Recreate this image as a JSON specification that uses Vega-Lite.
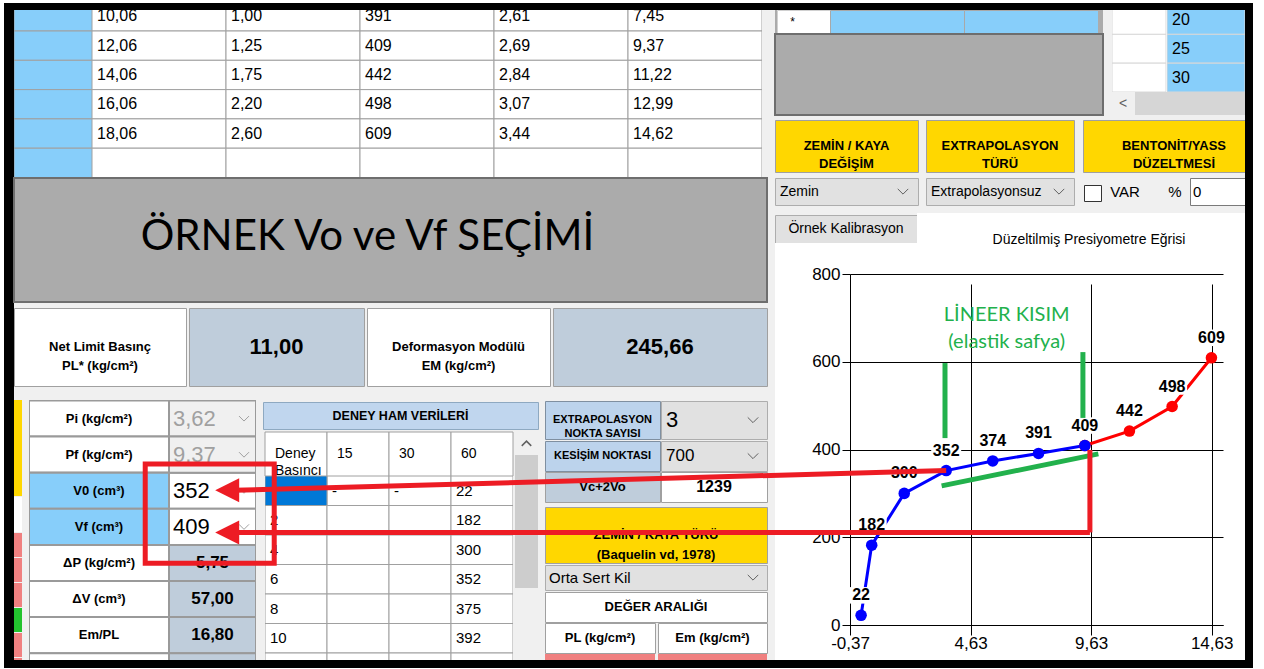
{
"$schema":"https://vega.github.io/schema/vega-lite/v6.json",
"padding":0,
"background":"#F0F0F0",
"spacing":0,
"bounds":"flush",
"config":{"view":{"stroke":null},"concat":{"spacing":0},"text":{"font":"Liberation Sans","color":"#000000"},"point":{"opacity":1}},
"datasets":{
 "tablo1":[
  {"r":0,"c":"c1","t":"10,06"},{"r":0,"c":"c2","t":"1,00"},{"r":0,"c":"c3","t":"391"},{"r":0,"c":"c4","t":"2,61"},{"r":0,"c":"c5","t":"7,45"},
  {"r":1,"c":"c1","t":"12,06"},{"r":1,"c":"c2","t":"1,25"},{"r":1,"c":"c3","t":"409"},{"r":1,"c":"c4","t":"2,69"},{"r":1,"c":"c5","t":"9,37"},
  {"r":2,"c":"c1","t":"14,06"},{"r":2,"c":"c2","t":"1,75"},{"r":2,"c":"c3","t":"442"},{"r":2,"c":"c4","t":"2,84"},{"r":2,"c":"c5","t":"11,22"},
  {"r":3,"c":"c1","t":"16,06"},{"r":3,"c":"c2","t":"2,20"},{"r":3,"c":"c3","t":"498"},{"r":3,"c":"c4","t":"3,07"},{"r":3,"c":"c5","t":"12,99"},
  {"r":4,"c":"c1","t":"18,06"},{"r":4,"c":"c2","t":"2,60"},{"r":4,"c":"c3","t":"609"},{"r":4,"c":"c4","t":"3,44"},{"r":4,"c":"c5","t":"14,62"},
  {"r":5,"c":"c1","t":""},{"r":5,"c":"c2","t":""},{"r":5,"c":"c3","t":""},{"r":5,"c":"c4","t":""},{"r":5,"c":"c5","t":""}
 ],
 "params":[
  {"r":0,"kol":"ad","t":"Pi (kg/cm²)","tur":"normal"},{"r":0,"kol":"deger","t":"3,62","tur":"liste"},
  {"r":1,"kol":"ad","t":"Pf (kg/cm²)","tur":"normal"},{"r":1,"kol":"deger","t":"9,37","tur":"liste"},
  {"r":2,"kol":"ad","t":"V0 (cm³)","tur":"secim"},{"r":2,"kol":"deger","t":"352","tur":"secim"},
  {"r":3,"kol":"ad","t":"Vf (cm³)","tur":"secim"},{"r":3,"kol":"deger","t":"409","tur":"secim"},
  {"r":4,"kol":"ad","t":"ΔP (kg/cm²)","tur":"normal"},{"r":4,"kol":"deger","t":"5,75","tur":"sonuc"},
  {"r":5,"kol":"ad","t":"ΔV (cm³)","tur":"normal"},{"r":5,"kol":"deger","t":"57,00","tur":"sonuc"},
  {"r":6,"kol":"ad","t":"Em/PL","tur":"normal"},{"r":6,"kol":"deger","t":"16,80","tur":"sonuc"},
  {"r":7,"kol":"ad","t":"","tur":"normal"},{"r":7,"kol":"deger","t":"","tur":"sonuc"}
 ],
 "deney":[
  {"r":0,"kol":"basinc","t":"","tur":"secili"},{"r":0,"kol":"s15","t":"-","tur":"normal"},{"r":0,"kol":"s30","t":"-","tur":"normal"},{"r":0,"kol":"s60","t":"22","tur":"normal"},
  {"r":1,"kol":"basinc","t":"2","tur":"normal"},{"r":1,"kol":"s15","t":"","tur":"normal"},{"r":1,"kol":"s30","t":"","tur":"normal"},{"r":1,"kol":"s60","t":"182","tur":"normal"},
  {"r":2,"kol":"basinc","t":"4","tur":"normal"},{"r":2,"kol":"s15","t":"","tur":"normal"},{"r":2,"kol":"s30","t":"","tur":"normal"},{"r":2,"kol":"s60","t":"300","tur":"normal"},
  {"r":3,"kol":"basinc","t":"6","tur":"normal"},{"r":3,"kol":"s15","t":"","tur":"normal"},{"r":3,"kol":"s30","t":"","tur":"normal"},{"r":3,"kol":"s60","t":"352","tur":"normal"},
  {"r":4,"kol":"basinc","t":"8","tur":"normal"},{"r":4,"kol":"s15","t":"","tur":"normal"},{"r":4,"kol":"s30","t":"","tur":"normal"},{"r":4,"kol":"s60","t":"375","tur":"normal"},
  {"r":5,"kol":"basinc","t":"10","tur":"normal"},{"r":5,"kol":"s15","t":"","tur":"normal"},{"r":5,"kol":"s30","t":"","tur":"normal"},{"r":5,"kol":"s60","t":"392","tur":"normal"},
  {"r":6,"kol":"basinc","t":"","tur":"normal"},{"r":6,"kol":"s15","t":"","tur":"normal"},{"r":6,"kol":"s30","t":"","tur":"normal"},{"r":6,"kol":"s60","t":"","tur":"normal"}
 ],
 "sag":[{"r":0,"kol":"deger","t":"20"},{"r":1,"kol":"deger","t":"25"},{"r":2,"kol":"deger","t":"30"}],
 "egri":[
  {"p":9.37,"v":409,"seri":"B"},{"p":11.22,"v":442,"seri":"B"},{"p":12.99,"v":498,"seri":"B"},{"p":14.62,"v":609,"seri":"B"},
  {"p":0.09,"v":22,"seri":"A"},{"p":0.53,"v":182,"seri":"A"},{"p":1.88,"v":300,"seri":"A"},{"p":3.62,"v":352,"seri":"A"},{"p":5.55,"v":374,"seri":"A"},{"p":7.45,"v":391,"seri":"A"},{"p":9.37,"v":409,"seri":"A"}
 ]
},
"vconcat":[
 {"width":1264,"height":3,"view":{"fill":"#FFFFFF"},"data":{"values":[]},"mark":{"type":"text","text":""}},
 {"hconcat":[
  {"width":4,"height":665,"view":{"fill":"#FFFFFF"},"data":{"values":[]},"mark":{"type":"text","text":""}},
  {"vconcat":[
   {"width":1249,"height":7,"view":{"fill":"#000000"},"data":{"values":[]},"mark":{"type":"text","text":""}},
   {"hconcat":[
    {"width":10,"height":650,"view":{"fill":"#000000"},"data":{"values":[]},"mark":{"type":"text","text":""}},
    {"hconcat":[
     {"vconcat":[
      {"hconcat":[
       {"width":78,"height":168,"data":{"name":"tablo1"},"transform":[{"filter":"datum.c == 'c1'"}],
        "mark":{"type":"rect","fill":"#87CEFA","stroke":"#A0A0A0","strokeWidth":1,"clip":true},
        "encoding":{"y":{"field":"r","type":"ordinal","axis":null,"scale":{"type":"band","range":[-8.3,167.5],"paddingInner":0,"paddingOuter":0}}}},
       {"width":670,"height":168,"data":{"name":"tablo1"},
        "encoding":{"x":{"field":"c","type":"nominal","axis":null,"scale":{"type":"band","paddingInner":0,"paddingOuter":0}},
                    "y":{"field":"r","type":"ordinal","axis":null,"scale":{"type":"band","range":[-8.3,167.5],"paddingInner":0,"paddingOuter":0}}},
        "layer":[
         {"mark":{"type":"rect","fill":"#FFFFFF","stroke":"#A0A0A0","strokeWidth":1,"clip":true}},
         {"mark":{"type":"text","align":"left","dx":5,"fontSize":16,"clip":true},"encoding":{"x":{"field":"c","type":"nominal","axis":null,"bandPosition":0},"text":{"field":"t"}}}
        ]},
       {"width":5,"height":168,"data":{"values":[]},"mark":{"type":"text","text":""}}
      ],"spacing":0,"bounds":"flush"},
      {"width":1,"height":168,"data":{"values":[]},"mark":{"type":"text","text":""}},
      {"width":753,"height":124,"view":{"fill":"#ABABAB","stroke":"#6E6E6E","strokeWidth":2},"data":{"values":[{"t":"ÖRNEK Vo ve Vf SEÇİMİ"}]},
       "mark":{"type":"text","font":"Lato","fontSize":42,"dx":-23,"dy":-3},"encoding":{"text":{"field":"t"}}},
      {"width":753,"height":6,"data":{"values":[]},"mark":{"type":"text","text":""}},
      {"hconcat":[
       {"width":172,"height":78,"view":{"fill":"#FFFFFF","stroke":"#A0A0A0"},"data":{"values":[{"t":"Net Limit Basınç\nPL* (kg/cm²)"}]},"mark":{"type":"text","fontSize":13,"fontWeight":"bold","lineBreak":"\n","lineHeight":19},"encoding":{"text":{"field":"t"}}},
       {"width":175,"height":78,"view":{"fill":"#BFCDDB","stroke":"#A0A0A0"},"data":{"values":[{"t":"11,00"}]},"mark":{"type":"text","fontSize":22,"fontWeight":"bold"},"encoding":{"text":{"field":"t"}}},
       {"width":183,"height":78,"view":{"fill":"#FFFFFF","stroke":"#A0A0A0"},"data":{"values":[{"t":"Deformasyon Modülü\nEM (kg/cm²)"}]},"mark":{"type":"text","fontSize":13,"fontWeight":"bold","lineBreak":"\n","lineHeight":19},"encoding":{"text":{"field":"t"}}},
       {"width":214,"height":78,"view":{"fill":"#BFCDDB","stroke":"#A0A0A0"},"data":{"values":[{"t":"245,66"}]},"mark":{"type":"text","fontSize":22,"fontWeight":"bold"},"encoding":{"text":{"field":"t"}}}
      ],"spacing":3,"bounds":"flush"},
      {"width":1,"height":78,"data":{"values":[]},"mark":{"type":"text","text":""}},
      {"width":753,"height":14,"data":{"values":[]},"mark":{"type":"text","text":""}},
      {"hconcat":[
       {"vconcat":[
        {"width":8,"height":96,"view":{"fill":"#FFD700"},"data":{"values":[]},"mark":{"type":"text","text":""}},
        {"width":8,"height":35,"view":{"fill":"#FFFFFF"},"data":{"values":[]},"mark":{"type":"text","text":""}},
        {"width":8,"height":24,"view":{"fill":"#F08080"},"data":{"values":[]},"mark":{"type":"text","text":""}},
        {"width":8,"height":24,"view":{"fill":"#F08080"},"data":{"values":[]},"mark":{"type":"text","text":""}},
        {"width":8,"height":24,"view":{"fill":"#F08080"},"data":{"values":[]},"mark":{"type":"text","text":""}},
        {"width":8,"height":24,"view":{"fill":"#22C32E"},"data":{"values":[]},"mark":{"type":"text","text":""}},
        {"width":8,"height":24,"view":{"fill":"#F08080"},"data":{"values":[]},"mark":{"type":"text","text":""}},
        {"width":8,"height":2,"view":{"fill":"#F08080"},"data":{"values":[]},"mark":{"type":"text","text":""}}
       ],"spacing":1,"bounds":"flush"},
       {"width":15,"height":1,"data":{"values":[]},"mark":{"type":"text","text":""}},
       {"width":140,"height":260,"data":{"name":"params"},"transform":[{"filter":"datum.kol == 'ad'"}],
        "encoding":{"y":{"field":"r","type":"ordinal","axis":null,"scale":{"type":"band","range":[0.5,289.3],"paddingInner":0,"paddingOuter":0}}},
        "layer":[
         {"mark":{"type":"rect","fill":"#FFFFFF","stroke":"#9A9A9A","strokeWidth":2,"clip":true}},
         {"transform":[{"filter":"datum.tur == 'secim'"}],"mark":{"type":"rect","fill":"#87CEFA","stroke":"#9A9A9A","strokeWidth":2,"clip":true}},
         {"mark":{"type":"text","fontSize":13,"fontWeight":"bold","clip":true},"encoding":{"text":{"field":"t"}}}
        ]},
       {"width":87,"height":260,"data":{"name":"params"},"transform":[{"filter":"datum.kol == 'deger'"}],
        "encoding":{"y":{"field":"r","type":"ordinal","axis":null,"scale":{"type":"band","range":[0.5,289.3],"paddingInner":0,"paddingOuter":0}},
                    "x":{"field":"kol","type":"nominal","axis":null,"scale":{"type":"band","paddingInner":0,"paddingOuter":0}}},
        "layer":[
         {"mark":{"type":"rect","fill":"#FFFFFF","stroke":"#9A9A9A","strokeWidth":2,"clip":true}},
         {"transform":[{"filter":"datum.tur == 'liste'"}],"mark":{"type":"rect","fill":"#F0F0F0","stroke":"#9A9A9A","strokeWidth":2,"clip":true}},
         {"transform":[{"filter":"datum.tur == 'sonuc'"}],"mark":{"type":"rect","fill":"#BFCDDB","stroke":"#9A9A9A","strokeWidth":2,"clip":true}},
         {"transform":[{"filter":"datum.tur == 'liste'"}],"mark":{"type":"text","align":"left","dx":4,"fontSize":22,"color":"#A0A0A0","clip":true},"encoding":{"x":{"field":"kol","type":"nominal","axis":null,"bandPosition":0},"text":{"field":"t"}}},
         {"transform":[{"filter":"datum.tur == 'secim'"}],"mark":{"type":"text","align":"left","dx":4,"fontSize":22,"color":"#000000","clip":true},"encoding":{"x":{"field":"kol","type":"nominal","axis":null,"bandPosition":0},"text":{"field":"t"}}},
         {"transform":[{"filter":"datum.tur == 'sonuc'"}],"mark":{"type":"text","fontSize":17,"fontWeight":"bold","clip":true},"encoding":{"text":{"field":"t"}}},
         {"transform":[{"filter":"datum.tur != 'sonuc'"}],"mark":{"type":"point","shape":"M-1,-0.5L0,0.5L1,-0.5","filled":false,"color":"#A0A0A0","strokeWidth":1,"size":100,"opacity":1,"xOffset":-12},"encoding":{"x":{"field":"kol","type":"nominal","axis":null,"bandPosition":1}}}
        ]},
       {"width":7,"height":260,"data":{"values":[]},"mark":{"type":"text","text":""}},
       {"vconcat":[
        {"width":275,"height":2,"data":{"values":[]},"mark":{"type":"text","text":""}},
        {"width":275,"height":27,"view":{"fill":"#C0D6EE","stroke":"#8EA9C1"},"data":{"values":[{"t":"DENEY HAM VERİLERİ"}]},"mark":{"type":"text","fontSize":12.5,"fontWeight":"bold"},"encoding":{"text":{"field":"t"}}},
        {"width":275,"height":3,"data":{"values":[]},"mark":{"type":"text","text":""}},
        {"hconcat":[
         {"width":2,"height":1,"data":{"values":[]},"mark":{"type":"text","text":""}},
         {"vconcat":[
          {"width":248,"height":44,"data":{"values":[{"kol":"basinc","t":"Deney\nBasıncı"},{"kol":"s15","t":"15"},{"kol":"s30","t":"30"},{"kol":"s60","t":"60"}]},
           "encoding":{"x":{"field":"kol","type":"nominal","axis":null,"scale":{"type":"band","paddingInner":0,"paddingOuter":0}}},
           "layer":[
            {"mark":{"type":"rect","fill":"#FFFFFF","stroke":"#A0A0A0"}},
            {"mark":{"type":"text","align":"left","dx":10,"fontSize":14,"lineBreak":"\n","lineHeight":17},"encoding":{"x":{"field":"kol","type":"nominal","axis":null,"bandPosition":0},"text":{"field":"t"}}}
           ]},
          {"width":248,"height":184,"data":{"name":"deney"},
           "encoding":{"x":{"field":"kol","type":"nominal","axis":null,"scale":{"type":"band","paddingInner":0,"paddingOuter":0}},
                       "y":{"field":"r","type":"ordinal","axis":null,"scale":{"type":"band","range":[0,206.5],"paddingInner":0,"paddingOuter":0}}},
           "layer":[
            {"mark":{"type":"rect","fill":"#FFFFFF","stroke":"#A0A0A0","clip":true}},
            {"transform":[{"filter":"datum.tur == 'secili'"}],"mark":{"type":"rect","fill":"#0078D7","stroke":"#A0A0A0","clip":true}},
            {"mark":{"type":"text","align":"left","dx":5,"fontSize":15,"clip":true},"encoding":{"x":{"field":"kol","type":"nominal","axis":null,"bandPosition":0},"text":{"field":"t"}}}
           ]}
         ],"spacing":0,"bounds":"flush"},
         {"width":250,"height":1,"data":{"values":[]},"mark":{"type":"text","text":""}},
         {"vconcat":[
          {"width":23,"height":23,"view":{"fill":"#F0F0F0"},"data":{"values":[{}]},"mark":{"type":"point","shape":"M-1,0.5L0,-0.5L1,0.5","filled":false,"color":"#606060","strokeWidth":1.5,"size":90,"opacity":1}},
          {"width":23,"height":133,"view":{"fill":"#CDCDCD"},"data":{"values":[]},"mark":{"type":"text","text":""}},
          {"width":23,"height":72,"view":{"fill":"#F0F0F0"},"data":{"values":[]},"mark":{"type":"text","text":""}}
         ],"spacing":0,"bounds":"flush"}
        ],"spacing":0,"bounds":"flush"}
       ],"spacing":0,"bounds":"flush"},
       {"width":282,"height":1,"data":{"values":[]},"mark":{"type":"text","text":""}},
       {"vconcat":[
        {"width":222,"height":1,"data":{"values":[]},"mark":{"type":"text","text":""}},
        {"hconcat":[
         {"width":115,"height":38,"view":{"fill":"#BCD3EC","stroke":"#7F8FA0"},"data":{"values":[{"t":"EXTRAPOLASYON\nNOKTA SAYISI"}]},"mark":{"type":"text","fontSize":11,"fontWeight":"bold","lineBreak":"\n","lineHeight":14},"encoding":{"text":{"field":"t"}}},
         {"width":106,"height":38,"view":{"fill":"#E1E1E1","stroke":"#ADADAD"},"data":{"values":[{"t":"3"}]},
          "encoding":{"x":{"field":"t","type":"nominal","axis":null,"scale":{"type":"band","paddingInner":0,"paddingOuter":0}}},
          "layer":[
           {"mark":{"type":"text","align":"left","dx":5,"fontSize":22},"encoding":{"x":{"field":"t","type":"nominal","axis":null,"bandPosition":0},"text":{"field":"t"}}},
           {"mark":{"type":"point","shape":"M-1,-0.5L0,0.5L1,-0.5","filled":false,"color":"#606060","strokeWidth":1,"size":110,"opacity":1,"xOffset":-14},"encoding":{"x":{"field":"t","type":"nominal","axis":null,"bandPosition":1}}}
          ]}
        ],"spacing":1,"bounds":"flush"},
        {"width":1,"height":38,"data":{"values":[]},"mark":{"type":"text","text":""}},
        {"width":222,"height":2,"data":{"values":[]},"mark":{"type":"text","text":""}},
        {"hconcat":[
         {"width":115,"height":30,"view":{"fill":"#BCD3EC","stroke":"#7F8FA0"},"data":{"values":[{"t":"KESİŞİM NOKTASI"}]},"mark":{"type":"text","fontSize":11,"fontWeight":"bold"},"encoding":{"text":{"field":"t"}}},
         {"width":106,"height":30,"view":{"fill":"#E1E1E1","stroke":"#ADADAD"},"data":{"values":[{"t":"700"}]},
          "encoding":{"x":{"field":"t","type":"nominal","axis":null,"scale":{"type":"band","paddingInner":0,"paddingOuter":0}}},
          "layer":[
           {"mark":{"type":"text","align":"left","dx":5,"fontSize":17},"encoding":{"x":{"field":"t","type":"nominal","axis":null,"bandPosition":0},"text":{"field":"t"}}},
           {"mark":{"type":"point","shape":"M-1,-0.5L0,0.5L1,-0.5","filled":false,"color":"#606060","strokeWidth":1,"size":110,"opacity":1,"xOffset":-14},"encoding":{"x":{"field":"t","type":"nominal","axis":null,"bandPosition":1}}}
          ]}
        ],"spacing":1,"bounds":"flush"},
        {"width":1,"height":30,"data":{"values":[]},"mark":{"type":"text","text":""}},
        {"width":222,"height":1,"data":{"values":[]},"mark":{"type":"text","text":""}},
        {"hconcat":[
         {"width":115,"height":30,"view":{"fill":"#BFCDDB","stroke":"#A0A0A0"},"data":{"values":[{"t":"Vc+2Vo"}]},"mark":{"type":"text","fontSize":13,"fontWeight":"bold"},"encoding":{"text":{"field":"t"}}},
         {"width":106,"height":30,"view":{"fill":"#FFFFFF","stroke":"#A0A0A0"},"data":{"values":[{"t":"1239"}]},"mark":{"type":"text","fontSize":16,"fontWeight":"bold"},"encoding":{"text":{"field":"t"}}}
        ],"spacing":1,"bounds":"flush"},
        {"width":1,"height":30,"data":{"values":[]},"mark":{"type":"text","text":""}},
        {"width":222,"height":5,"data":{"values":[]},"mark":{"type":"text","text":""}},
        {"width":222,"height":56,"view":{"fill":"#FFD700","stroke":"#A0A0A0"},"data":{"values":[{"t":"ZEMİN / KAYA TÜRÜ\n(Baquelin vd, 1978)"}]},"mark":{"type":"text","fontSize":13,"fontWeight":"bold","lineBreak":"\n","lineHeight":20},"encoding":{"text":{"field":"t"}}},
        {"width":222,"height":2,"data":{"values":[]},"mark":{"type":"text","text":""}},
        {"width":222,"height":25,"view":{"fill":"#E1E1E1","stroke":"#ADADAD"},"data":{"values":[{"t":"Orta Sert Kil"}]},
         "encoding":{"x":{"field":"t","type":"nominal","axis":null,"scale":{"type":"band","paddingInner":0,"paddingOuter":0}}},
         "layer":[
          {"mark":{"type":"text","align":"left","dx":4,"fontSize":15},"encoding":{"x":{"field":"t","type":"nominal","axis":null,"bandPosition":0},"text":{"field":"t"}}},
          {"mark":{"type":"point","shape":"M-1,-0.5L0,0.5L1,-0.5","filled":false,"color":"#606060","strokeWidth":1,"size":110,"opacity":1,"xOffset":-14},"encoding":{"x":{"field":"t","type":"nominal","axis":null,"bandPosition":1}}}
         ]},
        {"width":222,"height":2,"data":{"values":[]},"mark":{"type":"text","text":""}},
        {"width":222,"height":30,"view":{"fill":"#FFFFFF","stroke":"#A0A0A0"},"data":{"values":[{"t":"DEĞER ARALIĞI"}]},"mark":{"type":"text","fontSize":13,"fontWeight":"bold"},"encoding":{"text":{"field":"t"}}},
        {"width":222,"height":1,"data":{"values":[]},"mark":{"type":"text","text":""}},
        {"hconcat":[
         {"width":110,"height":30,"view":{"fill":"#FFFFFF","stroke":"#A0A0A0"},"data":{"values":[{"t":"PL (kg/cm²)"}]},"mark":{"type":"text","fontSize":13,"fontWeight":"bold"},"encoding":{"text":{"field":"t"}}},
         {"width":109,"height":30,"view":{"fill":"#FFFFFF","stroke":"#A0A0A0"},"data":{"values":[{"t":"Em (kg/cm²)"}]},"mark":{"type":"text","fontSize":13,"fontWeight":"bold"},"encoding":{"text":{"field":"t"}}}
        ],"spacing":3,"bounds":"flush"},
        {"width":1,"height":30,"data":{"values":[]},"mark":{"type":"text","text":""}},
        {"width":222,"height":1,"data":{"values":[]},"mark":{"type":"text","text":""}},
        {"hconcat":[
         {"width":110,"height":6,"view":{"fill":"#F08080"},"data":{"values":[]},"mark":{"type":"text","text":""}},
         {"width":109,"height":6,"view":{"fill":"#F08080"},"data":{"values":[]},"mark":{"type":"text","text":""}}
        ],"spacing":3,"bounds":"flush"}
       ],"spacing":0,"bounds":"flush"}
      ],"spacing":0,"bounds":"flush"}
     ],"spacing":0,"bounds":"flush"},
     {"width":761,"height":1,"data":{"values":[]},"mark":{"type":"text","text":""}},
     {"vconcat":[
      {"hconcat":[
       {"vconcat":[
        {"hconcat":[
         {"width":2,"height":24,"view":{"fill":"#ABABAB"},"data":{"values":[]},"mark":{"type":"text","text":""}},
         {"width":53,"height":24,"view":{"fill":"#FFFFFF","stroke":"#D0D0D0"},"data":{"values":[{"t":"*"}]},"mark":{"type":"text","fontSize":12,"dx":-11},"encoding":{"text":{"field":"t"}}},
         {"width":134,"height":24,"view":{"fill":"#87CEFA","stroke":"#A8A8A8"},"data":{"values":[]},"mark":{"type":"text","text":""}},
         {"width":134,"height":24,"view":{"fill":"#87CEFA","stroke":"#A8A8A8"},"data":{"values":[]},"mark":{"type":"text","text":""}},
         {"width":5,"height":24,"view":{"fill":"#ABABAB"},"data":{"values":[]},"mark":{"type":"text","text":""}}
        ],"spacing":0,"bounds":"flush"},
        {"width":1,"height":24,"data":{"values":[]},"mark":{"type":"text","text":""}},
        {"width":328,"height":81,"view":{"fill":"#ABABAB","stroke":"#6E6E6E","strokeWidth":2},"data":{"values":[]},"mark":{"type":"text","text":""}}
       ],"spacing":0,"bounds":"flush"},
       {"width":337,"height":1,"data":{"values":[]},"mark":{"type":"text","text":""}},
       {"vconcat":[
        {"hconcat":[
         {"width":54,"height":82,"data":{"name":"sag"},"mark":{"type":"rect","fill":"#FFFFFF","stroke":"#D8D8D8","clip":true},
          "encoding":{"y":{"field":"r","type":"ordinal","axis":null,"scale":{"type":"band","range":[-4.5,82],"paddingInner":0,"paddingOuter":0}}}},
         {"width":78,"height":82,"data":{"name":"sag"},
          "encoding":{"y":{"field":"r","type":"ordinal","axis":null,"scale":{"type":"band","range":[-4.5,82],"paddingInner":0,"paddingOuter":0}},
                      "x":{"field":"kol","type":"nominal","axis":null,"scale":{"type":"band","paddingInner":0,"paddingOuter":0}}},
          "layer":[
           {"mark":{"type":"rect","fill":"#87CEFA","stroke":"#D8D8D8","clip":true}},
           {"mark":{"type":"text","align":"left","dx":5,"fontSize":16,"clip":true},"encoding":{"x":{"field":"kol","type":"nominal","axis":null,"bandPosition":0},"text":{"field":"t"}}}
          ]}
        ],"spacing":1,"bounds":"flush"},
        {"width":1,"height":82,"data":{"values":[]},"mark":{"type":"text","text":""}},
        {"hconcat":[
         {"width":22,"height":23,"view":{"fill":"#F0F0F0"},"data":{"values":[{"t":"<"}]},"mark":{"type":"text","fontSize":14,"color":"#606060"},"encoding":{"text":{"field":"t"}}},
         {"width":110,"height":23,"view":{"fill":"#D6D6D6"},"data":{"values":[]},"mark":{"type":"text","text":""}}
        ],"spacing":1,"bounds":"flush"}
       ],"spacing":0,"bounds":"flush"}
      ],"spacing":0,"bounds":"flush"},
      {"width":1,"height":105,"data":{"values":[]},"mark":{"type":"text","text":""}},
      {"width":470,"height":5,"data":{"values":[]},"mark":{"type":"text","text":""}},
      {"hconcat":[
       {"width":143,"height":52,"view":{"fill":"#FFD700","stroke":"#A0A0A0"},"data":{"values":[{"t":"ZEMİN / KAYA\nDEĞİŞİM"}]},"mark":{"type":"text","fontSize":13,"fontWeight":"bold","lineBreak":"\n","lineHeight":18},"encoding":{"text":{"field":"t"}}},
       {"width":8,"height":52,"data":{"values":[]},"mark":{"type":"text","text":""}},
       {"width":148,"height":52,"view":{"fill":"#FFD700","stroke":"#A0A0A0"},"data":{"values":[{"t":"EXTRAPOLASYON\nTÜRÜ"}]},"mark":{"type":"text","fontSize":13,"fontWeight":"bold","lineBreak":"\n","lineHeight":18},"encoding":{"text":{"field":"t"}}},
       {"width":9,"height":52,"data":{"values":[]},"mark":{"type":"text","text":""}},
       {"width":162,"height":52,"view":{"fill":"#FFD700","stroke":"#A0A0A0"},"data":{"values":[{"t":"BENTONİT/YASS\nDÜZELTMESİ"}]},"mark":{"type":"text","fontSize":13,"fontWeight":"bold","lineBreak":"\n","lineHeight":18,"dx":10},"encoding":{"text":{"field":"t"}}}
      ],"spacing":0,"bounds":"flush"},
      {"width":1,"height":52,"data":{"values":[]},"mark":{"type":"text","text":""}},
      {"width":470,"height":6,"data":{"values":[]},"mark":{"type":"text","text":""}},
      {"hconcat":[
       {"width":143,"height":27,"view":{"fill":"#E1E1E1","stroke":"#ADADAD"},"data":{"values":[{"t":"Zemin"}]},
        "encoding":{"x":{"field":"t","type":"nominal","axis":null,"scale":{"type":"band","paddingInner":0,"paddingOuter":0}}},
        "layer":[
         {"mark":{"type":"text","align":"left","dx":5,"fontSize":14},"encoding":{"x":{"field":"t","type":"nominal","axis":null,"bandPosition":0},"text":{"field":"t"}}},
         {"mark":{"type":"point","shape":"M-1,-0.5L0,0.5L1,-0.5","filled":false,"color":"#606060","strokeWidth":1,"size":110,"opacity":1,"xOffset":-15},"encoding":{"x":{"field":"t","type":"nominal","axis":null,"bandPosition":1}}}
        ]},
       {"width":8,"height":27,"data":{"values":[]},"mark":{"type":"text","text":""}},
       {"width":148,"height":27,"view":{"fill":"#E1E1E1","stroke":"#ADADAD"},"data":{"values":[{"t":"Extrapolasyonsuz"}]},
        "encoding":{"x":{"field":"t","type":"nominal","axis":null,"scale":{"type":"band","paddingInner":0,"paddingOuter":0}}},
        "layer":[
         {"mark":{"type":"text","align":"left","dx":5,"fontSize":14},"encoding":{"x":{"field":"t","type":"nominal","axis":null,"bandPosition":0},"text":{"field":"t"}}},
         {"mark":{"type":"point","shape":"M-1,-0.5L0,0.5L1,-0.5","filled":false,"color":"#606060","strokeWidth":1,"size":110,"opacity":1,"xOffset":-15},"encoding":{"x":{"field":"t","type":"nominal","axis":null,"bandPosition":1}}}
        ]},
       {"width":10,"height":27,"data":{"values":[]},"mark":{"type":"text","text":""}},
       {"vconcat":[
        {"width":17,"height":7,"data":{"values":[]},"mark":{"type":"text","text":""}},
        {"width":17,"height":16,"view":{"fill":"#FFFFFF","stroke":"#333333"},"data":{"values":[]},"mark":{"type":"text","text":""}},
        {"width":17,"height":4,"data":{"values":[]},"mark":{"type":"text","text":""}}
       ],"spacing":0,"bounds":"flush"},
       {"width":17,"height":1,"data":{"values":[]},"mark":{"type":"text","text":""}},
       {"width":4,"height":27,"data":{"values":[]},"mark":{"type":"text","text":""}},
       {"width":40,"height":27,"data":{"values":[{"t":"VAR"}]},"mark":{"type":"text","fontSize":15},"encoding":{"text":{"field":"t"}}},
       {"width":15,"height":27,"data":{"values":[]},"mark":{"type":"text","text":""}},
       {"width":30,"height":27,"data":{"values":[{"t":"%"}]},"mark":{"type":"text","fontSize":15},"encoding":{"text":{"field":"t"}}},
       {"width":55,"height":27,"view":{"fill":"#FFFFFF","stroke":"#7A7A7A"},"data":{"values":[{"t":"0"}]},
        "encoding":{"x":{"field":"t","type":"nominal","axis":null,"scale":{"type":"band","paddingInner":0,"paddingOuter":0},"bandPosition":0},"text":{"field":"t"}},
        "mark":{"type":"text","align":"left","dx":3,"fontSize":15}}
      ],"spacing":0,"bounds":"flush"},
      {"width":1,"height":27,"data":{"values":[]},"mark":{"type":"text","text":""}},
      {"width":470,"height":8,"data":{"values":[]},"mark":{"type":"text","text":""}},
      {"hconcat":[
       {"vconcat":[
        {"width":142,"height":2,"data":{"values":[]},"mark":{"type":"text","text":""}},
        {"width":142,"height":28,"view":{"fill":"#E1E1E1","stroke":"#ADADAD"},"data":{"values":[{"t":"Örnek Kalibrasyon"}]},"mark":{"type":"text","fontSize":14},"encoding":{"text":{"field":"t"}}},
        {"width":142,"height":6,"view":{"fill":"#FFFFFF"},"data":{"values":[]},"mark":{"type":"text","text":""}}
       ],"spacing":0,"bounds":"flush"},
       {"width":142,"height":1,"data":{"values":[]},"mark":{"type":"text","text":""}},
       {"width":328,"height":36,"view":{"fill":"#FFFFFF"},"data":{"values":[{"t":"Düzeltilmiş Presiyometre Eğrisi"}]},"mark":{"type":"text","fontSize":14,"dx":8,"dy":9},"encoding":{"text":{"field":"t"}}}
      ],"spacing":0,"bounds":"flush"},
      {"width":1,"height":36,"data":{"values":[]},"mark":{"type":"text","text":""}},
      {"width":470,"height":411,"view":{"fill":"#FFFFFF"},
       "encoding":{
        "x":{"field":"p","type":"quantitative","scale":{"domain":[-0.37,15.1],"range":[75,448],"nice":false,"zero":false},
             "axis":{"values":[-0.37,4.63,9.63,14.63],"labelExpr":"replace(replace(format(datum.value,'.2f'),'.',','),'−','-')","title":null,"offset":-35,"grid":true,"gridColor":"#000000","gridWidth":1,"domainColor":"#000000","tickColor":"#000000","tickSize":5,"labelPadding":5,"labelFont":"Liberation Sans","labelFontSize":17,"labelColor":"#000000","labelFlush":false,"labelOverlap":false}},
        "y":{"field":"v","type":"quantitative","scale":{"domain":[0,800],"range":[376,25],"nice":false,"zero":false},
             "axis":{"values":[0,200,400,600,800],"title":null,"offset":-75,"grid":true,"gridColor":"#000000","gridWidth":1,"domainColor":"#000000","tickColor":"#000000","tickSize":8,"labelPadding":2,"labelFont":"Liberation Sans","labelFontSize":17,"labelColor":"#000000","labelFlush":false,"labelOverlap":false}}
       },
       "layer":[
        {"data":{"name":"egri"},"mark":{"type":"line","strokeWidth":3},"encoding":{"color":{"field":"seri","type":"nominal","scale":{"domain":["A","B"],"range":["#0000FF","#FF0000"]},"legend":null}}},
        {"data":{"name":"egri"},"mark":{"type":"point","shape":"circle","filled":true,"size":133,"opacity":1},"encoding":{"color":{"field":"seri","type":"nominal","legend":null}}},
        {"data":{"name":"egri"},"transform":[{"filter":"datum.seri == 'A' || datum.v != 409"}],"mark":{"type":"point","shape":"M-1,-0.55H1V0.55H-1Z","filled":true,"color":"#FFFFFF","size":900,"opacity":1,"strokeWidth":0,"yOffset":-20}},
        {"data":{"name":"egri"},"transform":[{"filter":"datum.seri == 'A' || datum.v != 409"}],"mark":{"type":"text","dy":-20,"fontSize":16,"fontWeight":"bold","color":"#000000"},"encoding":{"text":{"field":"v","type":"quantitative","format":"d"}}},
        {"data":{"values":[{"p":6.13,"v":706,"t":"LİNEER KISIM"},{"p":6.13,"v":645,"t":"(elastik safya)"}]},"mark":{"type":"text","font":"Lato","fontSize":20,"color":"#22B14C"},"encoding":{"text":{"field":"t"}}},
        {"data":{"values":[{"p":3.57,"v":426,"p2":3.57,"v2":597},{"p":9.29,"v":472,"p2":9.29,"v2":622},{"p":3.43,"v":317,"p2":9.93,"v2":390}]},"mark":{"type":"rule","strokeWidth":5,"color":"#22B14C"},"encoding":{"x2":{"field":"p2"},"y2":{"field":"v2"}}},
        {"data":{"values":[{"p":3.62,"v":352,"p2":-25.9,"v2":307},{"p":9.58,"v":211,"p2":-25.9,"v2":211},{"p":9.58,"v":211,"p2":9.58,"v2":399}]},"mark":{"type":"rule","strokeWidth":5,"color":"#ED1C24"},"encoding":{"x2":{"field":"p2"},"y2":{"field":"v2"}}},
        {"data":{"values":[{"p":-29.6,"v":141,"p2":-24.25,"v2":367}]},"mark":{"type":"rect","filled":false,"stroke":"#ED1C24","strokeWidth":5},"encoding":{"x2":{"field":"p2"},"y2":{"field":"v2"}}},
        {"data":{"values":[{"p":-26.2,"v":307},{"p":-26.2,"v":211}]},"mark":{"type":"point","shape":"M-1,0L1,-1L1,1Z","filled":true,"color":"#ED1C24","size":576,"opacity":1}}
       ]}
     ],"spacing":0,"bounds":"flush"}
    ],"spacing":0,"bounds":"flush"},
    {"width":1231,"height":1,"data":{"values":[]},"mark":{"type":"text","text":""}},
    {"width":8,"height":650,"view":{"fill":"#000000"},"data":{"values":[]},"mark":{"type":"text","text":""}}
   ],"spacing":0,"bounds":"flush"},
   {"width":1,"height":650,"data":{"values":[]},"mark":{"type":"text","text":""}},
   {"width":1249,"height":8,"view":{"fill":"#000000"},"data":{"values":[]},"mark":{"type":"text","text":""}}
  ],"spacing":0,"bounds":"flush"},
  {"width":1249,"height":1,"data":{"values":[]},"mark":{"type":"text","text":""}},
  {"width":11,"height":665,"view":{"fill":"#FFFFFF"},"data":{"values":[]},"mark":{"type":"text","text":""}}
 ],"spacing":0,"bounds":"flush"},
 {"width":1,"height":665,"data":{"values":[]},"mark":{"type":"text","text":""}},
 {"width":1264,"height":1,"view":{"fill":"#FFFFFF"},"data":{"values":[]},"mark":{"type":"text","text":""}}
]
}
